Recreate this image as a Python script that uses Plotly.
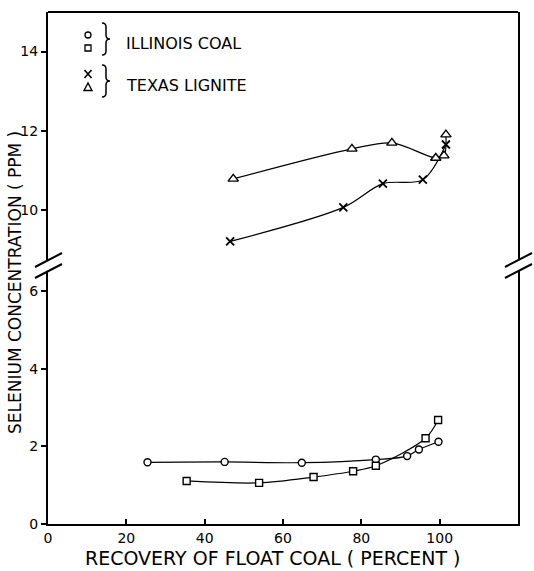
import plotly.graph_objects as go

# ---------------- data ----------------
ill_circle_x = [25.4, 45.1, 64.8, 83.7, 91.7, 94.7, 99.7]
ill_circle_y = [1.59, 1.60, 1.58, 1.66, 1.75, 1.92, 2.12]
ill_square_x = [35.4, 53.9, 67.8, 77.9, 83.7, 96.4, 99.6]
ill_square_y = [1.11, 1.06, 1.21, 1.36, 1.50, 2.21, 2.68]
tex_cross_x = [46.5, 75.4, 85.5, 95.7, 101.6]
tex_cross_y = [9.20, 10.06, 10.66, 10.76, 11.65]
tex_tri_x = [47.3, 77.6, 87.8, 99.0, 101.1, 101.6]
tex_tri_y = [10.78, 11.54, 11.69, 11.31, 11.37, 11.90]

x_ticks = [0, 20, 40, 60, 80, 100]
y_low_ticks = [0, 2, 4, 6]
y_high_ticks = [10, 12, 14]

# ---------------- geometry ----------------
W, H = 534, 571
L, R, T, B = 48, 518, 12, 524
PW, PH = R - L, B - T
BREAK_HI, BREAK_LO = 260, 271  # pixel rows of the axis break


def px(xp):
    return (xp - L) / PW


def py(yp):
    return (B - yp) / PH


FONT = "DejaVu Sans"
INK = "black"

fig = go.Figure()

line_style = dict(color=INK, width=1.2, shape="spline", smoothing=0.9)

fig.add_trace(go.Scatter(x=ill_circle_x, y=ill_circle_y, mode="lines+markers",
                         line=line_style, xaxis="x", yaxis="y",
                         marker=dict(symbol="circle", size=7, color="white",
                                     line=dict(color=INK, width=1.4))))
fig.add_trace(go.Scatter(x=ill_square_x, y=ill_square_y, mode="lines+markers",
                         line=line_style, xaxis="x", yaxis="y",
                         marker=dict(symbol="square", size=7, color="white",
                                     line=dict(color=INK, width=1.4))))
fig.add_trace(go.Scatter(x=tex_cross_x, y=tex_cross_y, mode="lines+markers",
                         line=line_style, xaxis="x", yaxis="y2",
                         marker=dict(symbol="x-thin", size=8, color=INK,
                                     line=dict(color=INK, width=1.8))))
fig.add_trace(go.Scatter(x=tex_tri_x, y=tex_tri_y, mode="lines+markers",
                         line=line_style, xaxis="x", yaxis="y2",
                         marker=dict(symbol="triangle-up", size=9, color="white",
                                     line=dict(color=INK, width=1.4))))

axis_common = dict(showline=True, linecolor=INK, linewidth=2, showgrid=False,
                   zeroline=False, tickcolor=INK, tickwidth=1.5,
                   tickfont=dict(family=FONT, size=14, color=INK))

fig.update_layout(
    width=W, height=H,
    margin=dict(l=L, r=W - R, t=T, b=H - B),
    paper_bgcolor="white", plot_bgcolor="white",
    showlegend=False,
    xaxis=dict(range=[0, 120], tickvals=x_ticks, ticks="inside", ticklen=5,
               anchor="y", **axis_common),
    yaxis=dict(domain=[0, py(BREAK_LO)], range=[0, 6.52], tickvals=y_low_ticks,
               ticks="outside", ticklen=5, mirror=True, anchor="x", **axis_common),
    yaxis2=dict(domain=[py(BREAK_HI), 1], range=[8.73, 15.0], tickvals=y_high_ticks,
                ticks="outside", ticklen=5, mirror=True, anchor="x", **axis_common),
)

shapes = []
# top frame line
shapes.append(dict(type="line", xref="paper", yref="paper", x0=0, x1=1, y0=1, y1=1,
                   line=dict(color=INK, width=2)))
# axis-break slashes on both sides
for xc in (L, R):
    for yc in (BREAK_HI, BREAK_LO):
        shapes.append(dict(type="line", xref="paper", yref="paper",
                           x0=px(xc - 13), y0=py(yc + 7), x1=px(xc + 14), y1=py(yc - 7),
                           line=dict(color=INK, width=2)))

# legend symbols
def sym_circle(xc, yc, r=3):
    return dict(type="circle", xref="paper", yref="paper", xsizemode="pixel",
                ysizemode="pixel", xanchor=px(xc), yanchor=py(yc),
                x0=-r, x1=r, y0=-r, y1=r, line=dict(color=INK, width=1.3),
                fillcolor="white")


def sym_square(xc, yc, r=3):
    return dict(type="rect", xref="paper", yref="paper", xsizemode="pixel",
                ysizemode="pixel", xanchor=px(xc), yanchor=py(yc),
                x0=-r, x1=r, y0=-r, y1=r, line=dict(color=INK, width=1.3),
                fillcolor="white")


def sym_path(xc, yc, path, width=1.3):
    return dict(type="path", xref="paper", yref="paper", xsizemode="pixel",
                ysizemode="pixel", xanchor=px(xc), yanchor=py(yc), path=path,
                line=dict(color=INK, width=width))


shapes.append(sym_circle(88, 35))
shapes.append(sym_square(88, 48))
shapes.append(sym_path(88, 74, "M-3.5,4 L3.5,-4 M-3.5,-4 L3.5,4", 1.6))
shapes.append(sym_path(88, 87, "M-4,-3.5 L4,-3.5 L0,4 Z", 1.4))
brace = "M-3,16 Q1,16 1,12 L1,4 Q1,0 5,0 Q1,0 1,-4 L1,-12 Q1,-16 -3,-16"
shapes.append(sym_path(105, 39, brace, 1.5))
shapes.append(sym_path(105, 81, brace, 1.5))

fig.update_layout(shapes=shapes)

annotations = [
    dict(text="ILLINOIS COAL", x=px(124), y=py(43), xanchor="left", yanchor="middle"),
    dict(text="TEXAS LIGNITE", x=px(124), y=py(85), xanchor="left", yanchor="middle"),
]
for a in annotations:
    a.update(xref="paper", yref="paper", showarrow=False,
             font=dict(family=FONT, size=16, color=INK))

annotations.append(dict(text="RECOVERY OF FLOAT COAL ( PERCENT )", x=px(273), y=py(558),
                        xref="paper", yref="paper", xanchor="center", yanchor="middle",
                        showarrow=False, font=dict(family=FONT, size=19, color=INK)))
annotations.append(dict(text="SELENIUM CONCENTRATION ( PPM )", x=px(15), y=py(283),
                        xref="paper", yref="paper", xanchor="center", yanchor="middle",
                        textangle=-90, showarrow=False,
                        font=dict(family=FONT, size=17, color=INK)))
fig.update_layout(annotations=annotations)

fig.write_html("out.html")
